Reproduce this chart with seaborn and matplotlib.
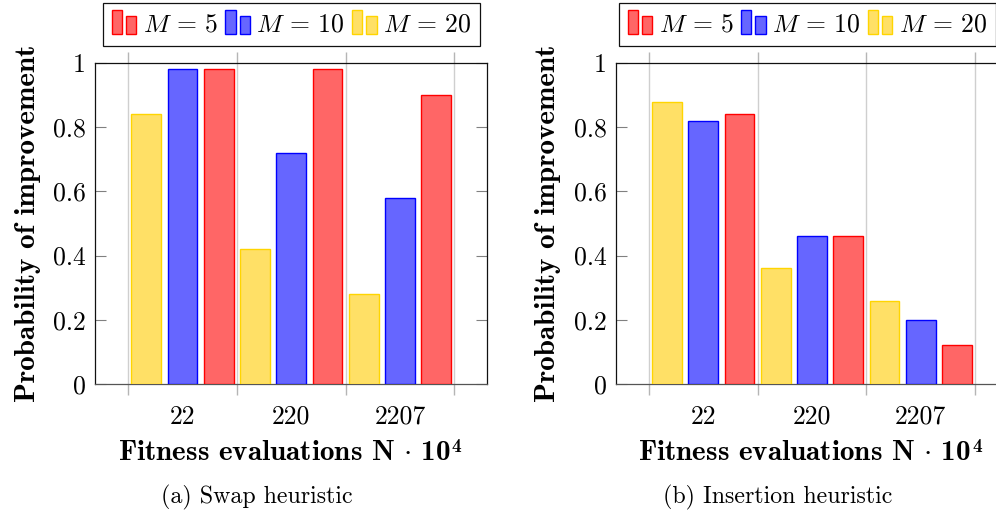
import matplotlib
matplotlib.use("Agg")
import matplotlib.pyplot as plt
import seaborn as sns
import pandas as pd
from matplotlib.legend_handler import HandlerBase
from matplotlib.patches import Rectangle, Patch

# ---------------- data ----------------
groups = ["22", "220", "2207"]
hue_labels = ["$M\\,=\\,20$", "$M\\,=\\,10$", "$M\\,=\\,5$"]   # drawing order in each group
swap_m20 = [0.84, 0.42, 0.28]
swap_m10 = [0.98, 0.72, 0.58]
swap_m5 = [0.98, 0.98, 0.90]
ins_m20 = [0.88, 0.36, 0.26]
ins_m10 = [0.82, 0.46, 0.20]
ins_m5 = [0.84, 0.46, 0.12]
yticks = [0, 0.2, 0.4, 0.6, 0.8, 1]
ytick_labels = ["0", "0.2", "0.4", "0.6", "0.8", "1"]
captions = ["(a) Swap heuristic", "(b) Insertion heuristic"]

fill_cols = dict(zip(hue_labels, ["#ffe066", "#6666ff", "#ff6666"]))
edge_cols = dict(zip(hue_labels, ["#ffd500", "#0000ff", "#ff0000"]))

def make_df(m20, m10, m5):
    rows = []
    for lab, vals in zip(hue_labels, [m20, m10, m5]):
        for g, v in zip(groups, vals):
            rows.append({"N": g, "p": v, "M": lab})
    return pd.DataFrame(rows)

dfs = [make_df(swap_m20, swap_m10, swap_m5), make_df(ins_m20, ins_m10, ins_m5)]

# ---------------- style ----------------
plt.rcParams["font.family"] = "serif"
plt.rcParams["font.serif"] = ["cmr10"]
plt.rcParams["mathtext.fontset"] = "cm"
plt.rcParams["axes.formatter.use_mathtext"] = True

FS = 18.5
FS_LAB = 21

class TwoBarHandler(HandlerBase):
    def create_artists(self, legend, orig_handle, xdescent, ydescent,
                       width, height, fontsize, trans):
        fc = orig_handle.get_facecolor()
        ec = orig_handle.get_edgecolor()
        w = width * 0.42
        r1 = Rectangle((-xdescent, -ydescent), w, height + ydescent,
                       facecolor=fc, edgecolor=ec, lw=1.0, transform=trans)
        r2 = Rectangle((-xdescent + width - w, -ydescent), w, (height + ydescent) * 0.76,
                       facecolor=fc, edgecolor=ec, lw=1.0, transform=trans)
        return [r1, r2]

fig = plt.figure(figsize=(9.96, 5.14), dpi=100)
W, H = 996, 514
ax_lefts = [95, 615.7]
leg_centers = [291.5, 807.3]
axes = []
for i, df in enumerate(dfs):
    ax = fig.add_axes([ax_lefts[i] / W, (H - 384) / H, 392 / W, 321 / H])
    axes.append(ax)
    sns.barplot(data=df, x="N", y="p", hue="M", order=groups, hue_order=hue_labels,
                palette=fill_cols, width=1.0, gap=0.18, saturation=1,
                errorbar=None, legend=False, ax=ax, zorder=3)
    for lab, cont in zip(hue_labels, ax.containers):
        for bar in cont:
            bar.set_edgecolor(edge_cols[lab])
            bar.set_linewidth(1.0)

    ax.set_xlim(-0.805, 2.8)
    ax.set_ylim(0, 1)
    ax.set_yticks(yticks)
    ax.set_yticklabels(ytick_labels, fontsize=FS)
    ax.set_xticks(range(len(groups)))
    ax.set_xticklabels(groups, fontsize=FS)
    ax.set_xticks([-0.5, 0.5, 1.5, 2.5], minor=True)
    ax.tick_params(axis="x", which="major", length=0, pad=15)
    ax.tick_params(axis="x", which="minor", direction="out", length=8, width=1,
                   top=True, bottom=True, color="#b5b5b5")
    ax.tick_params(axis="y", which="major", direction="in", length=8, width=0.8,
                   left=True, right=True, color="#808080", pad=6.5)
    ax.xaxis.grid(True, which="minor", color="#cfcfcf", lw=1.0, zorder=0)
    ax.yaxis.grid(False)
    ax.set_axisbelow(True)
    for s in ax.spines.values():
        s.set_color("#111111")
        s.set_linewidth(0.9)
    ax.spines["bottom"].set_color("#555555")

    ax.set_ylabel("Probability of improvement", fontfamily="cmb10", fontsize=21,
                  labelpad=9)
    xl = ax.set_xlabel(r"Fitness evaluations N$\,\cdot\,$10", fontfamily="cmb10",
                       fontsize=FS_LAB, labelpad=8)
    xl.set_x(0.5 - 7 / 392)
    # bold superscript "4" placed at the end of the x label
    ax.annotate("4", xy=(1, 1), xycoords=xl, xytext=(0.8, 1.5),
                textcoords="offset points", ha="left", va="top",
                fontsize=14, fontfamily="cmb10")

    handles = [Patch(facecolor=fill_cols[l], edgecolor=edge_cols[l]) for l in hue_labels[::-1]]
    leg = ax.legend(handles, hue_labels[::-1], loc="lower center",
                    bbox_to_anchor=(leg_centers[i] / W, 1 - 45.7 / H),
                    bbox_transform=fig.transFigure, borderaxespad=0, ncol=3,
                    fontsize=FS, handler_map={Patch: TwoBarHandler()},
                    handlelength=0.95, handleheight=0.9, handletextpad=0.25,
                    columnspacing=0.3, borderpad=0.35, fancybox=False,
                    framealpha=1, edgecolor="#111111")
    leg.get_frame().set_linewidth(0.9)

    fig.text((ax_lefts[i] + 196 - 34) / W, 1 - 497 / H, captions[i], ha="center",
             va="center", fontsize=17.2, fontfamily="cmr10")

fig.savefig("out.png", dpi=100)
